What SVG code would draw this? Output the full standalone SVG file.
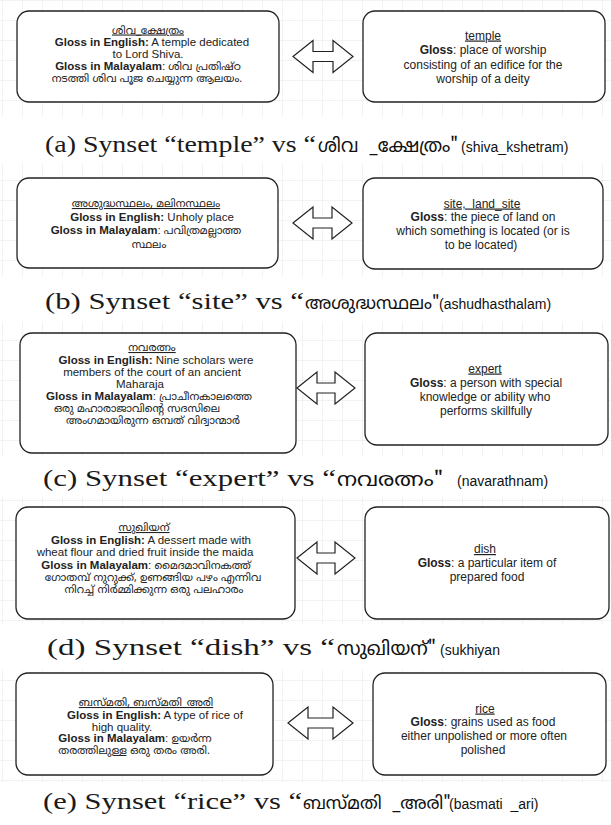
<svg xmlns="http://www.w3.org/2000/svg" width="611" height="825" viewBox="0 0 611 825">
<style>
.box{fill:#fff;stroke:#222;stroke-width:1.3}
.arr{fill:#fff;stroke:#222;stroke-width:1.2}
.t{font-family:"Liberation Sans",Arial,"Noto Sans Malayalam",sans-serif;font-size:11.5px;fill:#222;text-anchor:middle}
.r{font-size:12px}
.b{font-weight:bold}
.u{text-decoration:underline}
.ml{font-family:"Noto Sans Malayalam","Noto Sans","DejaVu Sans",sans-serif;font-size:10.8px}
.cap{font-family:"Liberation Serif","Times New Roman",serif;font-size:24px;fill:#1a1a1a}
.capm{font-family:"Noto Sans Malayalam","Noto Sans","DejaVu Sans",sans-serif;font-size:19px;fill:#111}
.s17{font-size:17.5px}
.capl{font-family:"Liberation Sans",Arial,sans-serif;font-size:14px;fill:#111}
</style>
<defs>
<pattern id="grid" width="20" height="20" patternUnits="userSpaceOnUse" x="2" y="0">
<path d="M20 0H0V20" fill="none" stroke="#e6e6e6" stroke-width="1"/>
</pattern>
</defs>
<rect width="611" height="825" fill="#fff"/>
<g id="grids" fill="url(#grid)">
<rect x="0" y="0" width="611" height="117"/>
<rect x="0" y="163" width="611" height="114"/>
<rect x="0" y="322" width="611" height="134"/>
<rect x="0" y="497" width="611" height="128"/>
<rect x="0" y="670" width="611" height="112"/>
</g>
<g id="connectors">
<path class="arr" d="M293 56.5L313 40.5V51.5H333V40.5L353 56.5L333 72.5V61.5H313V72.5Z"/>
<path class="arr" d="M293 223L313 207V218H332V207L352 223L332 239V228H313V239Z"/>
<path class="arr" d="M297 388L317 372V383H335V372L355 388L335 404V393H317V404Z"/>
<path class="arr" d="M297 558L317 542V553H335V542L355 558L335 574V563H317V574Z"/>
<path class="arr" d="M288 723L308 707V718H333V707L353 723L333 739V728H308V739Z"/>
</g>
<g id="a-ml">
<rect class="box" x="17" y="11" width="262" height="91" rx="12"/>
<text class="t" x="148" y="33.5"><tspan class="ml u">ശിവ_ക്ഷേത്രം</tspan></text>
<text class="t" x="152" y="46"><tspan class="b">Gloss in English:</tspan> A temple dedicated</text>
<text class="t" x="148" y="58">to Lord Shiva.</text>
<text class="t" x="148" y="70"><tspan class="b">Gloss in Malayalam</tspan>: <tspan class="ml">ശിവ പ്രതിഷ്ഠ</tspan></text>
<text class="t" x="147" y="82"><tspan class="ml">നടത്തി ശിവ പൂജ ചെയ്യുന്ന ആലയം.</tspan></text>
</g>
<g id="a-en">
<rect class="box" x="363" y="11" width="242" height="91" rx="12"/>
<text class="t r" x="483" y="39.5"><tspan class="u">temple</tspan></text>
<text class="t r" x="483" y="54"><tspan class="b">Gloss</tspan>: place of worship</text>
<text class="t r" x="483" y="68.5">consisting of an edifice for the</text>
<text class="t r" x="483" y="83">worship of a deity</text>
</g>
<g id="b-ml">
<rect class="box" x="17" y="178" width="261" height="90" rx="12"/>
<text class="t" x="146" y="207"><tspan class="ml u">അശുദ്ധസ്ഥലം, മലിനസ്ഥലം</tspan></text>
<text class="t" x="152" y="221"><tspan class="b">Gloss in English:</tspan> Unholy place</text>
<text class="t" x="146" y="234"><tspan class="b">Gloss in Malayalam</tspan>: <tspan class="ml">പവിത്രമല്ലാത്ത</tspan></text>
<text class="t" x="149" y="247.5"><tspan class="ml">സ്ഥലം</tspan></text>
</g>
<g id="b-en">
<rect class="box" x="363" y="178" width="240" height="91" rx="12"/>
<text class="t r" x="482" y="207.5" xml:space="preserve"><tspan class="u">site,  land_site</tspan></text>
<text class="t r" x="483" y="221"><tspan class="b">Gloss</tspan>: the piece of land on</text>
<text class="t r" x="483" y="235">which something is located (or is</text>
<text class="t r" x="481" y="248.5">to be located)</text>
</g>
<g id="c-ml">
<rect class="box" x="20" y="333" width="276" height="120" rx="12"/>
<text class="t" x="152" y="351"><tspan class="ml u">നവരത്നം</tspan></text>
<text class="t" x="156" y="364"><tspan class="b">Gloss in English:</tspan> Nine scholars were</text>
<text class="t" x="152" y="376">members of the court of an ancient</text>
<text class="t" x="140" y="388">Maharaja</text>
<text class="t" x="149" y="400"><tspan class="b">Gloss in Malayalam</tspan>: <tspan class="ml">പ്രാചീനകാലത്തെ</tspan></text>
<text class="t" x="137" y="412"><tspan class="ml">ഒരു മഹാരാജാവിന്റെ സദസിലെ</tspan></text>
<text class="t" x="153" y="424"><tspan class="ml">അംഗമായിരുന്ന ഒമ്പത് വിദ്വാന്മാർ</tspan></text>
</g>
<g id="c-en">
<rect class="box" x="365" y="333" width="243" height="112" rx="12"/>
<text class="t r" x="485" y="372.5"><tspan class="u">expert</tspan></text>
<text class="t r" x="486" y="386.5"><tspan class="b">Gloss</tspan>: a person with special</text>
<text class="t r" x="485" y="401">knowledge or ability who</text>
<text class="t r" x="486" y="415">performs skillfully</text>
</g>
<g id="d-ml">
<rect class="box" x="16" y="507" width="279" height="112" rx="12"/>
<text class="t" x="144" y="531"><tspan class="ml u">സുഖിയന്</tspan></text>
<text class="t" x="151" y="544"><tspan class="b">Gloss in English:</tspan> A dessert made with</text>
<text class="t" x="145" y="556">wheat flour and dried fruit inside the maida</text>
<text class="t" x="146" y="569"><tspan class="b">Gloss in Malayalam</tspan>: <tspan class="ml">മൈദമാവിനകത്ത്</tspan></text>
<text class="t" x="153" y="581"><tspan class="ml">ഗോതമ്പ് നുറുക്ക്, ഉണങ്ങിയ പഴം എന്നിവ</tspan></text>
<text class="t" x="154" y="593"><tspan class="ml">നിറച്ച് നിർമ്മിക്കുന്ന ഒരു പലഹാരം</tspan></text>
</g>
<g id="d-en">
<rect class="box" x="365" y="507" width="244" height="112" rx="12"/>
<text class="t r" x="485" y="553"><tspan class="u">dish</tspan></text>
<text class="t r" x="487" y="567"><tspan class="b">Gloss</tspan>: a particular item of</text>
<text class="t r" x="487" y="581">prepared food</text>
</g>
<g id="e-ml">
<rect class="box" x="16" y="673" width="257" height="102" rx="12"/>
<text class="t" x="146" y="706"><tspan class="ml u">ബസ്മതി, ബസ്മതി_അരി</tspan></text>
<text class="t" x="155" y="719"><tspan class="b">Gloss in English:</tspan> A type of rice of</text>
<text class="t" x="122" y="730.5">high quality.</text>
<text class="t" x="135" y="742"><tspan class="b">Gloss in Malayalam</tspan>: <tspan class="ml">ഉയർന്ന</tspan></text>
<text class="t" x="134" y="754"><tspan class="ml">തരത്തിലുള്ള ഒരു തരം അരി.</tspan></text>
</g>
<g id="e-en">
<rect class="box" x="373" y="673" width="233" height="102" rx="12"/>
<text class="t r" x="485" y="712.5"><tspan class="u">rice</tspan></text>
<text class="t r" x="483" y="726"><tspan class="b">Gloss</tspan>: grains used as food</text>
<text class="t r" x="484" y="739.5">either unpolished or more often</text>
<text class="t r" x="483" y="753.5">polished</text>
</g>
<g id="captions">
<text class="cap" x="45" y="152" textLength="271" lengthAdjust="spacingAndGlyphs">(a) Synset “temple” vs “</text>
<text class="capm" x="318" y="152" xml:space="preserve" textLength="140" lengthAdjust="spacingAndGlyphs">ശിവ  _ക്ഷേത്രം"</text>
<text class="capl" x="461" y="152">(shiva_kshetram)</text>
<text class="cap" x="45" y="309" textLength="259" lengthAdjust="spacingAndGlyphs">(b) Synset “site” vs “</text>
<text class="capm s17" x="305" y="309">അശുദ്ധസ്ഥലം"</text>
<text class="capl" x="439" y="309">(ashudhasthalam)</text>
<text class="cap" x="43" y="486" textLength="293" lengthAdjust="spacingAndGlyphs">(c) Synset “expert” vs “</text>
<text class="capm" x="337" y="486" textLength="106" lengthAdjust="spacingAndGlyphs">നവരത്നം"</text>
<text class="capl" x="457" y="486">(navarathnam)</text>
<text class="cap" x="47" y="655" textLength="288" lengthAdjust="spacingAndGlyphs">(d) Synset “dish” vs “</text>
<text class="capm" x="337" y="655" textLength="99" lengthAdjust="spacingAndGlyphs">സുഖിയന്"</text>
<text class="capl" x="440" y="655">(sukhiyan</text>
<text class="cap" x="43" y="809" textLength="259" lengthAdjust="spacingAndGlyphs">(e) Synset “rice” vs “</text>
<text class="capm s17" x="303" y="809" xml:space="preserve">ബസ്മതി  _അരി"</text>
<text class="capl" x="449" y="809" xml:space="preserve">(basmati  _ari)</text>
</g>
</svg>
